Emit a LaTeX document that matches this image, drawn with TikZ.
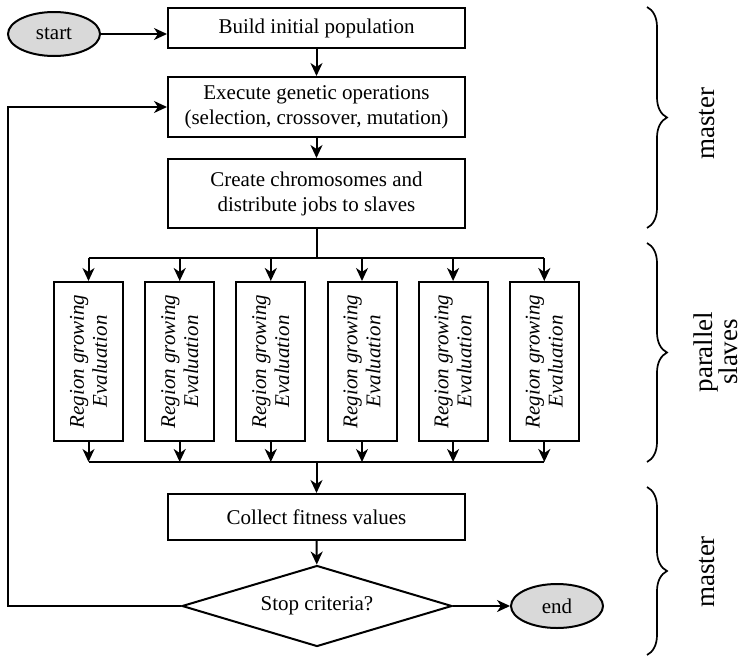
\documentclass[tikz,border=0pt]{standalone}
\usepackage{fontspec}
\setmainfont{Liberation Serif}
\usetikzlibrary{arrows.meta, shapes.geometric, positioning, decorations.pathreplacing}

\begin{document}
\begin{tikzpicture}[x=1pt, y=-1pt, >={Stealth[length=13pt, width=12pt, inset=4pt]}, line width=2pt,
    box/.style={draw, rectangle, minimum width=297pt, align=center, inner sep=2pt, font=\fontsize{21}{25}\selectfont},
    term/.style={draw, ellipse, fill=black!15, minimum width=92pt, minimum height=44pt, inner sep=0pt, font=\fontsize{21}{25}\selectfont},
    slave/.style={draw, rectangle, rotate=90, minimum width=159pt, minimum height=69pt, align=center, inner sep=0pt, font=\fontsize{21}{23}\selectfont\itshape},
    brace/.style={decorate, decoration={brace, amplitude=20pt}, line width=1.7pt},
    side/.style={rotate=90, align=center, font=\fontsize{27}{24}\selectfont}]
    \useasboundingbox (0,0) rectangle (747,659);

    % 1. Khoi master phia tren
    \node[term] (start) at (54,34) {start};
    \node[box, minimum height=40pt] (build) at (316.5,28) {Build initial population};
    \node[box, minimum height=60pt] (exec) at (316.5,107) {Execute genetic operations\\(selection, crossover, mutation)};
    \node[box, minimum height=69pt] (create) at (316.5,193.5) {Create chromosomes and\\distribute jobs to slaves};

    \draw[->] (start.east) -- (start.east -| build.west);
    \draw[->] (build) -- (exec);
    \draw[->] (exec) -- (create);

    % 2. Cac slave song song (node xoay 90 do: east la canh tren, west la canh duoi)
    \node[slave] (s1) at (88.5,361.5) {Region growing\\Evaluation};
    \node[slave] (s2) at (179.7,361.5) {Region growing\\Evaluation};
    \node[slave] (s3) at (270.8,361.5) {Region growing\\Evaluation};
    \node[slave] (s4) at (362,361.5) {Region growing\\Evaluation};
    \node[slave] (s5) at (453.1,361.5) {Region growing\\Evaluation};
    \node[slave] (s6) at (544.3,361.5) {Region growing\\Evaluation};

    % Duong phan phoi phia tren
    \coordinate (topbus) at (316.5,258);
    \draw (create.south) -- (topbus);
    \draw (topbus -| s1.east) -- (topbus -| s6.east);
    \draw[->] (topbus -| s1.east) -- (s1.east);
    \draw[->] (topbus -| s2.east) -- (s2.east);
    \draw[->] (topbus -| s3.east) -- (s3.east);
    \draw[->] (topbus -| s4.east) -- (s4.east);
    \draw[->] (topbus -| s5.east) -- (s5.east);
    \draw[->] (topbus -| s6.east) -- (s6.east);

    % Duong thu gom phia duoi
    \coordinate (botbus) at (316.5,462);
    \draw[->] (s1.west) -- (botbus -| s1.west);
    \draw[->] (s2.west) -- (botbus -| s2.west);
    \draw[->] (s3.west) -- (botbus -| s3.west);
    \draw[->] (s4.west) -- (botbus -| s4.west);
    \draw[->] (s5.west) -- (botbus -| s5.west);
    \draw[->] (s6.west) -- (botbus -| s6.west);
    \draw (botbus -| s1.west) -- (botbus -| s6.west);

    % 3. Khoi master phia duoi
    \node[box, minimum height=46pt] (collect) at (316.5,517) {Collect fitness values};
    \node[draw, diamond, aspect=3.3, minimum width=270pt, minimum height=81pt, inner sep=0pt, font=\fontsize{21}{25}\selectfont] (stop) at (317,606) {Stop criteria?};
    \node[term] (finish) at (557,606) {end};

    \draw[->] (botbus) -- (collect.north);
    \draw[->] (collect) -- (stop);
    \draw[->] (stop.east) -- (finish.west);

    % Vong lap quay lai
    \coordinate (back) at (8,606);
    \draw[->] (stop.west) -- (back) |- (exec.west);

    % 4. Dau ngoac va nhan ben phai
    \draw[brace] (647,7) -- (647,228);
    \node[side] (master1) at (707,124) {master};
    \draw[brace] (647,243) -- (647,462);
    \node[side] (parallel) at (716,352) {parallel\\slaves};
    \draw[brace] (647,487) -- (647,655);
    \node[side] (master2) at (707,572) {master};

\end{tikzpicture}
\end{document}
